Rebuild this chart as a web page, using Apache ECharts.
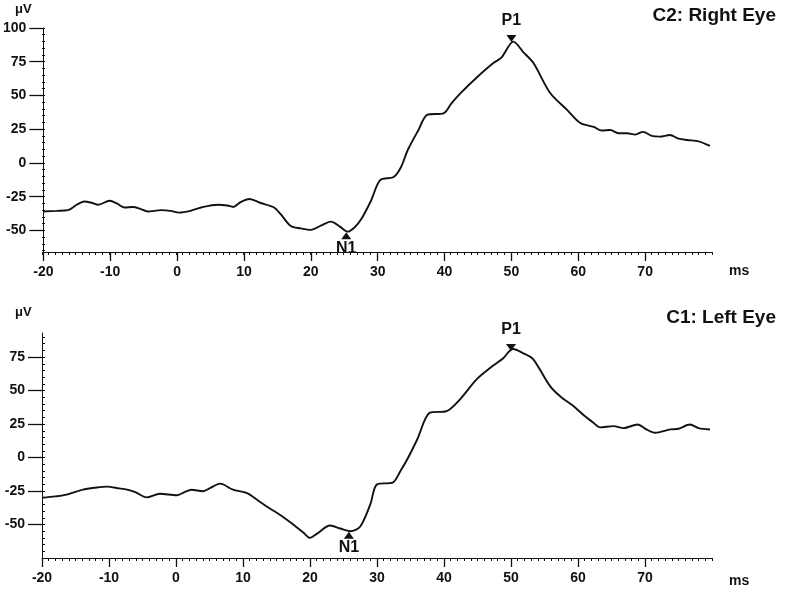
<!DOCTYPE html>
<html>
<head>
<meta charset="utf-8">
<script src="https://cdn.jsdelivr.net/npm/echarts@6/dist/echarts.min.js"></script>
<style>
html,body{margin:0;padding:0;background:#fff;}
#chart{width:788px;height:589px;}
</style>
</head>
<body>
<div id="chart"></div>
<script>
// ---- tick labels ----
const xTickLabels = [-20, -10, 0, 10, 20, 30, 40, 50, 60, 70];
const yTickLabelsTop = [-50, -25, 0, 25, 50, 75, 100];
const yTickLabelsBottom = [-50, -25, 0, 25, 50, 75];

// ---- C2: Right Eye (top) ----
const timeTop = [-20,-18,-16.3,-15,-13.9,-12.8,-11.8,-10.1,-9,-7.9,-6.6,-5.5,-4.4,-2.4,-1,0.3,2,3.6,6.1,7.5,8.4,9.5,10.8,12.5,14.5,15.5,17,18.5,20,21.5,23,24.3,25.5,26.5,27.5,29,30.4,32.4,33.5,34.5,36.1,37.4,39.9,41,42.4,44.9,47.3,48.5,50.3,51.8,53.3,55.8,58.4,60.3,62.3,63.5,64.8,66,67.3,68.5,69.7,71,72.2,73.7,75,76.3,78,79.7];
const valueTop = [-36,-35.5,-35,-31,-28.6,-29.5,-31,-28,-30,-33,-32.6,-34,-36,-35,-35.5,-36.8,-35.5,-33,-31,-31.5,-32.6,-29,-26.7,-29.7,-33,-38,-46.7,-48.5,-49.6,-46.5,-43.5,-47,-50.9,-48,-42,-28,-12.6,-10.4,-3,9.6,24.4,35.6,37,44,51.8,63.7,74,78,89.9,82,74,51.8,39,29.6,26.7,24,24.4,22,22,21,23,20,19.5,20.7,18,17,16,12.6];
const peakNamesTop = ['P1', 'N1'];
const peakTimesTop = [50, 25.3];
const peakValuesTop = [90, -51];

// ---- C1: Left Eye (bottom) ----
const timeBottom = [-20,-18,-16.3,-13.9,-12,-10.3,-8.5,-7.3,-6,-4.4,-2.4,0.1,1.2,2.3,4,5,6.6,8.5,10.6,12.5,14,15.5,17.5,19,20,21,23,24.5,26,27.5,29,30,32.4,33.5,34.5,36,37.9,40.4,42.4,44.9,47.3,48.8,50.3,51.8,53.3,55.8,57.5,59.3,61,62.3,63.3,65.3,66.8,68.9,70.2,71.5,73.8,75,76.7,78,79.7];
const valueBottom = [-30,-29,-27.7,-24,-22.5,-21.7,-23,-24,-26,-29.7,-27,-28.2,-26,-24,-25.2,-23,-19.5,-24,-26.5,-33,-38,-42.7,-50,-56,-60,-57,-50.7,-53,-55,-51.5,-35,-20,-18.5,-10,-1.5,13.5,33.5,34.7,43.5,58.5,68.5,74,81,78,73.5,53.5,45,38.5,31,26,22.5,23.5,22,24.7,21,18.5,21,21.5,24.7,22,21];
const peakNamesBottom = ['P1', 'N1'];
const peakTimesBottom = [50, 25.8];
const peakValuesBottom = [80, -55];

const INK = '#111111';
const FONT = 'Liberation Sans, Arial, sans-serif';

const yMinorTop = [];
for (let v = -65; v <= 100; v += 5) yMinorTop.push(v);
const yMinorBottom = [];
for (let v = -75; v <= 90; v += 5) yMinorBottom.push(v);
const xMinor = [];
for (let v = -20; v <= 80; v += 1) xMinor.push(v);

function zip(a, b) { return a.map((t, i) => [t, b[i]]); }

const grids = [
  {left: 42, top: 28, width: 670, height: 224},
  {left: 42, top: 28, width: 670, height: 224},
  {left: 42, top: 333, width: 670, height: 225},
  {left: 42, top: 333, width: 670, height: 225}
];

function mainX(gi) {
  return {
    type: 'value', gridIndex: gi, min: -20, max: 80,
    axisLine: {show: true, onZero: false, lineStyle: {color: INK, width: 1}},
    axisTick: {show: true, customValues: xTickLabels, length: 9, lineStyle: {color: INK, width: 1.3}},
    axisLabel: {customValues: xTickLabels, margin: 13, fontSize: 14, fontWeight: 'bold', color: INK, fontFamily: FONT},
    splitLine: {show: false}
  };
}
function minorX(gi) {
  return {
    type: 'value', gridIndex: gi, min: -20, max: 80,
    axisLine: {show: false, onZero: false},
    axisTick: {show: true, customValues: xMinor, length: 3, lineStyle: {color: INK, width: 1}},
    axisLabel: {show: false},
    splitLine: {show: false}
  };
}
function mainY(gi, min, max, ticks) {
  return {
    type: 'value', gridIndex: gi, min: min, max: max,
    axisLine: {show: true, onZero: false, lineStyle: {color: INK, width: 1}},
    axisTick: {show: true, customValues: ticks, length: 14, lineStyle: {color: INK, width: 1.3}},
    axisLabel: {customValues: ticks, margin: 17, fontSize: 14, fontWeight: 'bold', color: INK, fontFamily: FONT},
    splitLine: {show: false}
  };
}
function minorY(gi, min, max, ticks) {
  return {
    type: 'value', gridIndex: gi, min: min, max: max,
    axisLine: {show: false, onZero: false},
    axisTick: {show: true, inside: true, customValues: ticks, length: 3, lineStyle: {color: INK, width: 1}},
    axisLabel: {show: false},
    splitLine: {show: false}
  };
}

function peakSeries(xi, names, times, values) {
  return {
    type: 'scatter', xAxisIndex: xi, yAxisIndex: xi,
    symbol: 'triangle', symbolSize: [10, 7],
    itemStyle: {color: INK, opacity: 1},
    z: 5,
    data: names.map((n, i) => {
      const up = values[i] > 0;
      return {
        name: n, value: [times[i], values[i]],
        symbolRotate: up ? 180 : 0,
        symbolOffset: [0, up ? -3 : 4],
        label: {
          show: true, formatter: n, position: up ? 'top' : 'bottom',
          distance: up ? 6 : 1,
          fontSize: 16, fontWeight: 'bold', color: INK, fontFamily: FONT
        }
      };
    })
  };
}

const option = {
  animation: false,
  backgroundColor: '#ffffff',
  grid: grids,
  xAxis: [mainX(0), minorX(1), mainX(2), minorX(3)],
  yAxis: [
    mainY(0, -66, 100, yTickLabelsTop),
    minorY(1, -66, 100, yMinorTop),
    mainY(2, -75, 93, yTickLabelsBottom),
    minorY(3, -75, 93, yMinorBottom)
  ],
  series: [
    {type: 'line', xAxisIndex: 0, yAxisIndex: 0, data: zip(timeTop, valueTop),
     showSymbol: false, smooth: 0.3, lineStyle: {color: INK, width: 1.9}},
    peakSeries(0, peakNamesTop, peakTimesTop, peakValuesTop),
    {type: 'line', xAxisIndex: 2, yAxisIndex: 2, data: zip(timeBottom, valueBottom),
     showSymbol: false, smooth: 0.3, lineStyle: {color: INK, width: 1.9}},
    peakSeries(2, peakNamesBottom, peakTimesBottom, peakValuesBottom)
  ],
  graphic: [
    {type: 'text', left: 15, top: 3, style: {text: 'μV', font: 'bold 13px ' + FONT, fill: INK}},
    {type: 'text', left: 15, top: 306, style: {text: 'μV', font: 'bold 13px ' + FONT, fill: INK}},
    {type: 'text', right: 12, top: 6, style: {text: 'C2: Right Eye', font: 'bold 19px ' + FONT, fill: INK}},
    {type: 'text', right: 12, top: 308, style: {text: 'C1: Left Eye', font: 'bold 19px ' + FONT, fill: INK}},
    {type: 'text', left: 729, top: 264, style: {text: 'ms', font: 'bold 14px ' + FONT, fill: INK}},
    {type: 'text', left: 729, top: 574, style: {text: 'ms', font: 'bold 14px ' + FONT, fill: INK}}
  ]
};

const chart = echarts.init(document.getElementById('chart'), null, {renderer: 'canvas'});
chart.setOption(option);
</script>
</body>
</html>
